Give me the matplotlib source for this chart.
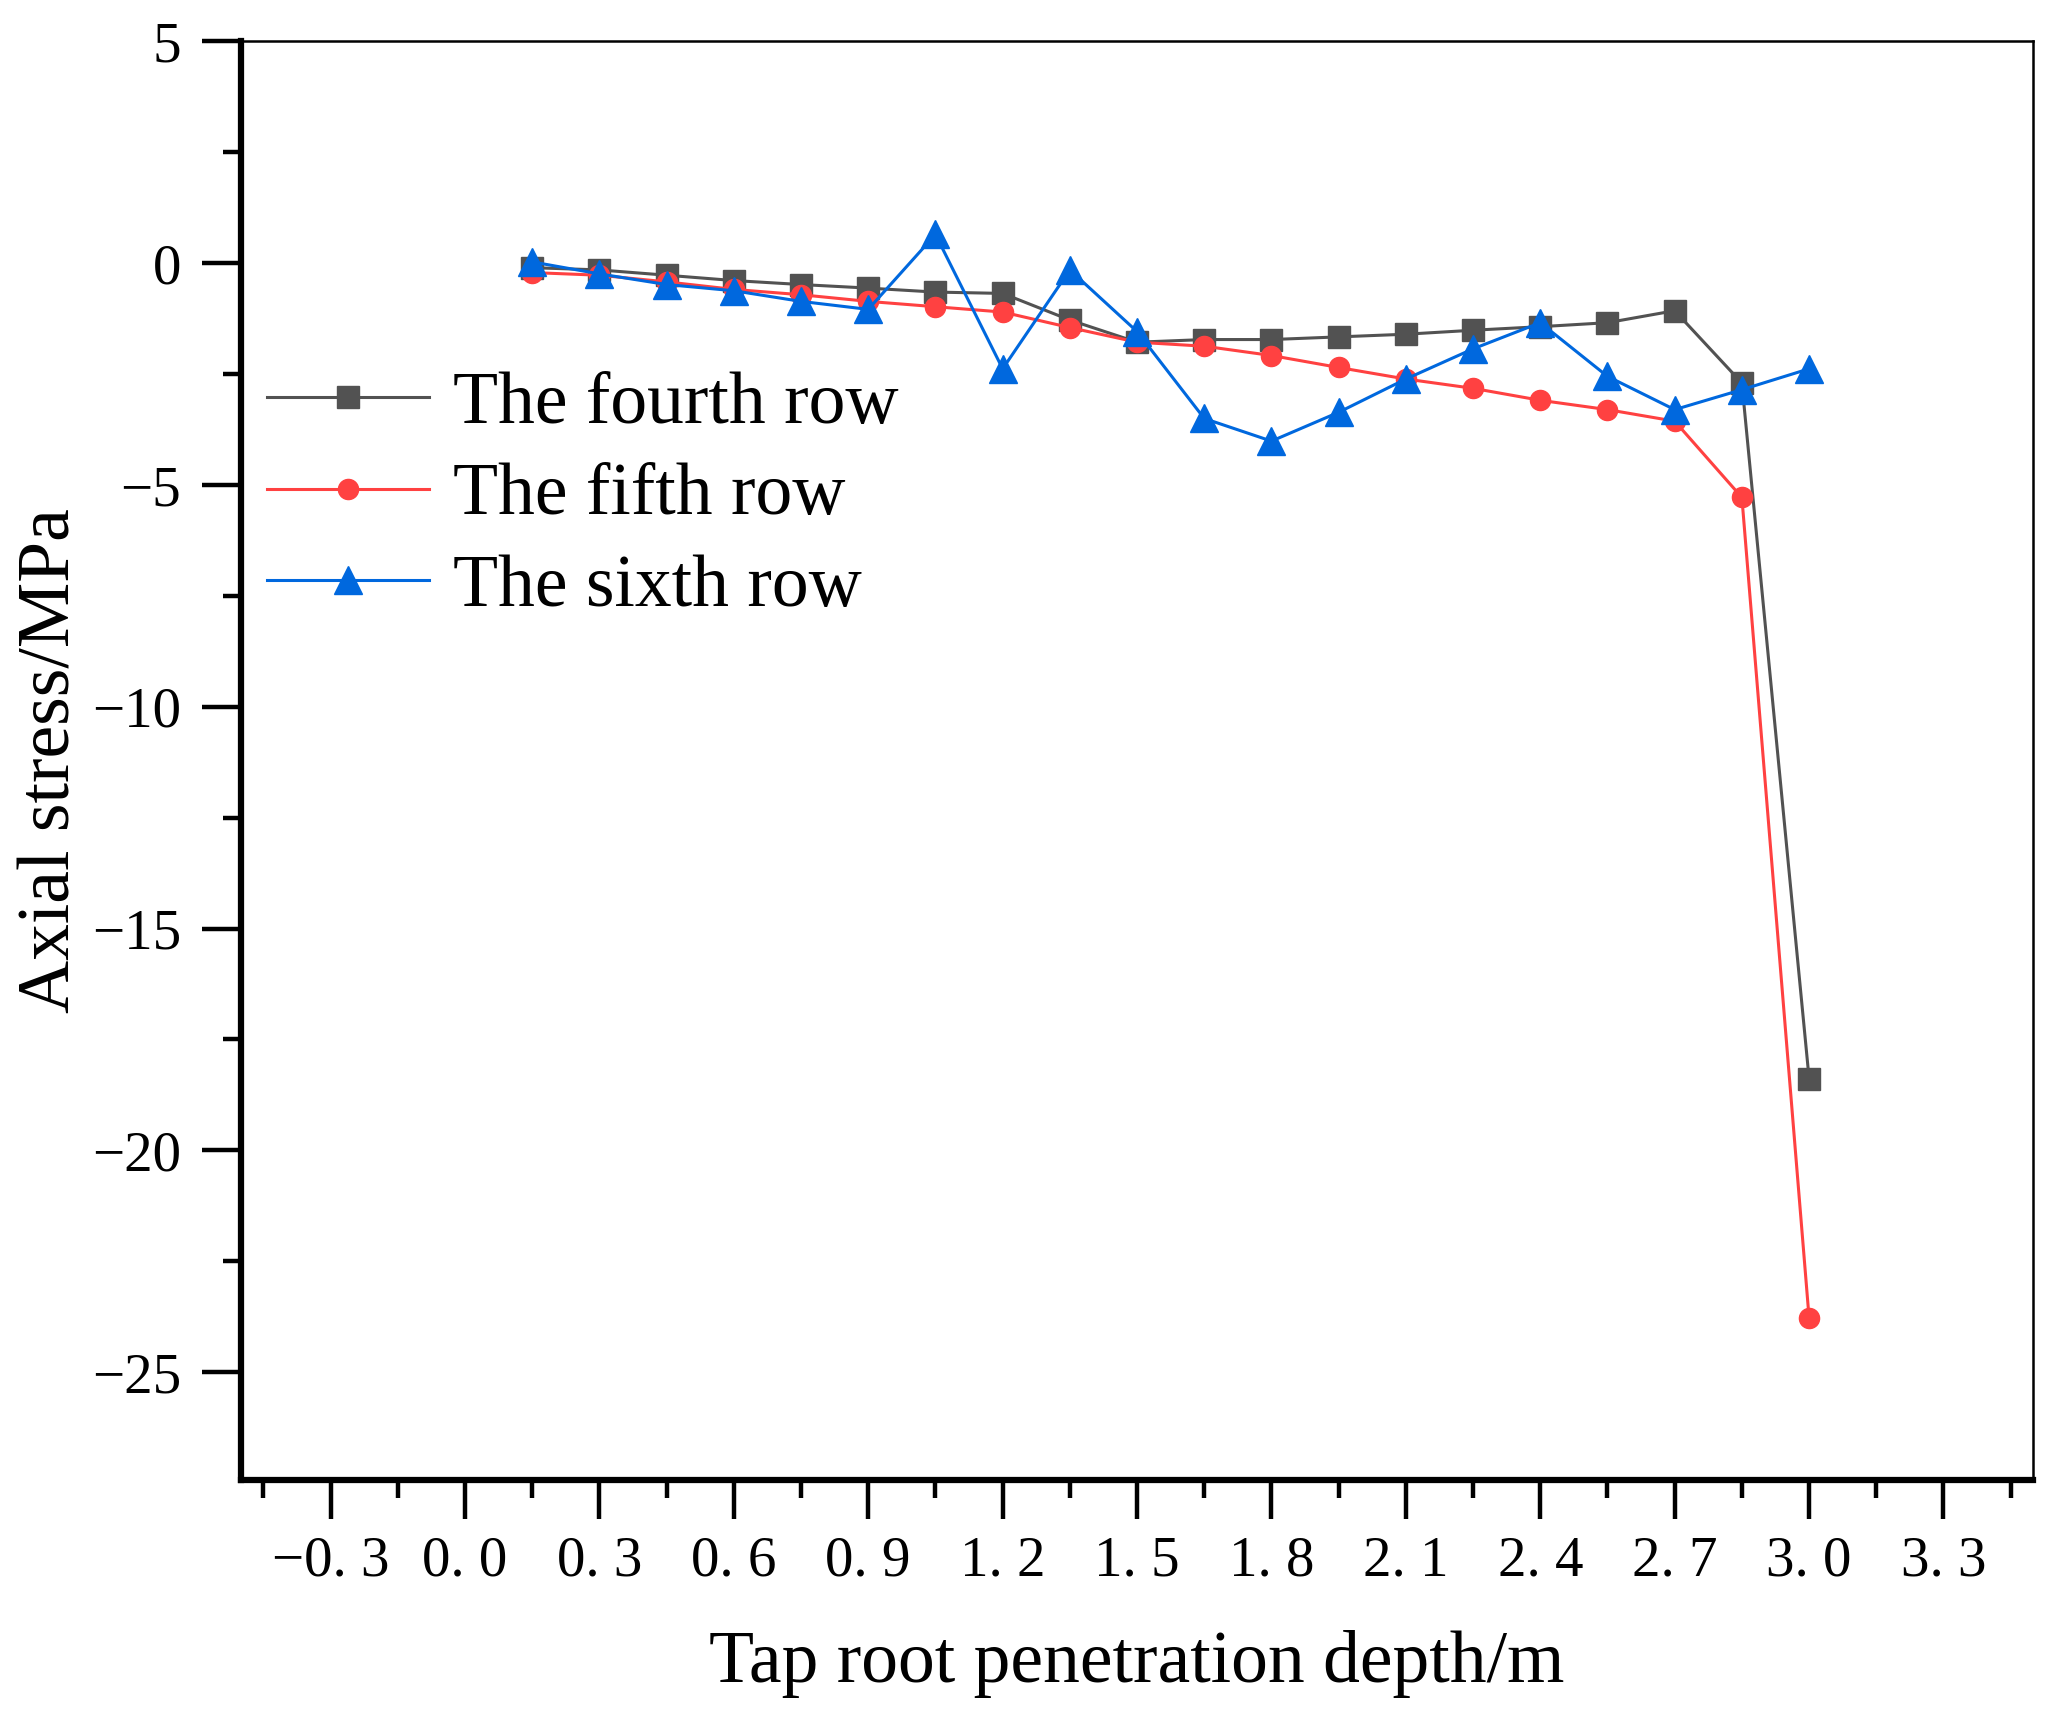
import numpy as np
import matplotlib
matplotlib.use('Agg')
import matplotlib.pyplot as plt
from matplotlib.ticker import FixedLocator, MultipleLocator

plt.rcParams['font.family'] = ['Liberation Serif', 'DejaVu Serif']
plt.rcParams['mathtext.fontset'] = 'stix'

# penetration depth (m)
depth = [0.15, 0.30, 0.45, 0.60, 0.75, 0.90, 1.05, 1.20, 1.35, 1.50,
         1.65, 1.80, 1.95, 2.10, 2.25, 2.40, 2.55, 2.70, 2.85, 3.00]

# axial stress (MPa)
fourth_row = [-0.10, -0.15, -0.27, -0.39, -0.48, -0.56, -0.65, -0.68, -1.28, -1.78,
              -1.72, -1.72, -1.66, -1.60, -1.51, -1.43, -1.34, -1.07, -2.70, -18.38]
fifth_row = [-0.21, -0.27, -0.42, -0.59, -0.71, -0.86, -0.98, -1.10, -1.45, -1.78,
             -1.87, -2.08, -2.35, -2.61, -2.82, -3.09, -3.30, -3.56, -5.28, -23.78]
sixth_row = [0.03, -0.24, -0.48, -0.62, -0.86, -1.04, 0.65, -2.38, -0.15, -1.54,
             -3.50, -4.01, -3.36, -2.61, -1.93, -1.34, -2.55, -3.30, -2.85, -2.38]

labels = ['The fourth row', 'The fifth row', 'The sixth row']

x_ticks = [-0.3, 0.0, 0.3, 0.6, 0.9, 1.2, 1.5, 1.8, 2.1, 2.4, 2.7, 3.0, 3.3]
x_ticklabels = ['\u22120. 3', '0. 0', '0. 3', '0. 6', '0. 9', '1. 2', '1. 5',
                '1. 8', '2. 1', '2. 4', '2. 7', '3. 0', '3. 3']
y_ticks = [5, 0, -5, -10, -15, -20, -25]
y_ticklabels = ['5', '0', '\u22125', '\u221210', '\u221215', '\u221220', '\u221225']

fig = plt.figure(figsize=(20.67, 17.28), dpi=100)
ax = fig.add_axes([0.1166, 0.1433, 0.867, 0.8327])

ax.plot(depth, fourth_row, '-s', color='#525252', lw=2.2, ms=16, label=labels[0], zorder=3)
ax.plot(depth, fifth_row, '-o', color='#FF4141', lw=2.2, ms=14.5, label=labels[1], zorder=4)
ax.plot(depth, sixth_row, '-^', color='#0068DE', lw=2.2, ms=20, label=labels[2], zorder=5)

ax.set_xlim(-0.5, 3.5)
ax.set_ylim(-27.44, 5)

ax.xaxis.set_major_locator(FixedLocator(x_ticks))
ax.set_xticklabels(x_ticklabels)
ax.xaxis.set_minor_locator(MultipleLocator(0.15))
ax.yaxis.set_major_locator(FixedLocator(y_ticks))
ax.set_yticklabels(y_ticklabels)
ax.yaxis.set_minor_locator(MultipleLocator(2.5))

ax.tick_params(which='major', direction='out', length=28, width=3.2, labelsize=41)
ax.tick_params(which='minor', direction='out', length=13, width=3.2)
ax.tick_params(axis='x', which='major', pad=12)
ax.tick_params(axis='y', which='major', pad=15)

for side in ['left', 'bottom']:
    ax.spines[side].set_linewidth(4.5)
for side in ['top', 'right']:
    ax.spines[side].set_linewidth(1.8)

ax.set_xlabel('Tap root penetration depth/m', fontsize=53)
ax.set_ylabel('Axial stress/MPa', fontsize=53)
ax.xaxis.set_label_coords(0.5, -0.104)
ax.yaxis.set_label_coords(-0.087, 0.5)

ax.legend(loc='upper left', bbox_to_anchor=(0.0145, 0.771), frameon=False,
          fontsize=53, handlelength=2.2, handletextpad=0.33, labelspacing=0.33,
          borderpad=0, borderaxespad=0)

fig.savefig('out.png', dpi=100)
